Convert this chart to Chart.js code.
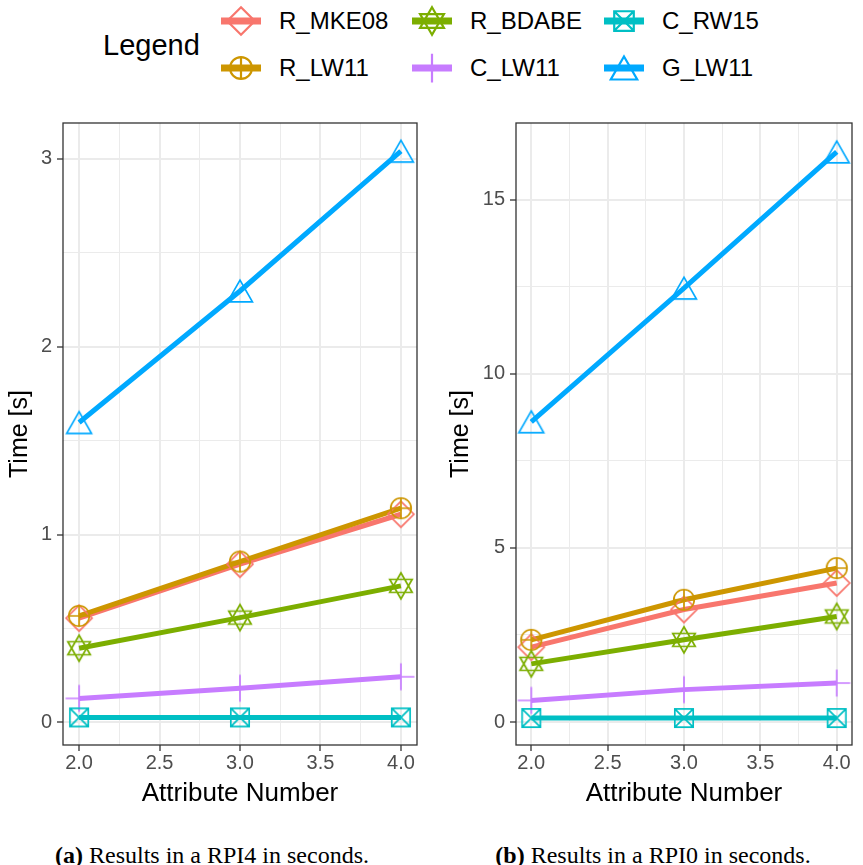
<!DOCTYPE html>
<html>
<head>
<meta charset="utf-8">
<script src="https://cdn.jsdelivr.net/npm/chart.js@4/dist/chart.umd.min.js"></script>
<style>
	body { margin: 0; background: #fff; width: 863px; height: 865px; position: relative; overflow: hidden;
		font-family: 'Liberation Sans', Arial, sans-serif; }
	canvas { position: absolute; }
	#rpi4 { left: 0; top: 100px; }
	#rpi0 { left: 430px; top: 100px; }
	.leg-title { position: absolute; left: 103px; top: 31px; font-size: 29px; line-height: 29px; color: #000; }
	.leg-text { position: absolute; font-size: 24px; line-height: 24px; color: #000; white-space: nowrap; }
	.cap { position: absolute; top: 841px; width: 430px; text-align: center; font-family: 'Liberation Serif', 'Times New Roman', serif;
		font-size: 24px; line-height: 28px; color: #000; white-space: nowrap; }
</style>
</head>
<body>
<div id="legend"><div class="leg-title">Legend</div></div>
<canvas id="rpi4" width="430" height="720"></canvas>
<canvas id="rpi0" width="433" height="720"></canvas>
<div class="cap" style="left:-3px"><b>(a)</b> Results in a RPI4 in seconds.</div>
<div class="cap" style="left:438px"><b>(b)</b> Results in a RPI0 in seconds.</div>
<script>
// attribute numbers on the x axis
const attributes = [2, 3, 4];

const seriesNames = ['R_MKE08', 'R_LW11', 'R_BDABE', 'C_LW11', 'C_RW15', 'G_LW11'];

// (a) RPI4, time in seconds
const rpi4MKE08 = [0.555, 0.842, 1.108];
const rpi4LW11 = [0.567, 0.856, 1.14];
const rpi4BDABE = [0.395, 0.558, 0.727];
const rpi4CLW11 = [0.128, 0.182, 0.243];
const rpi4RW15 = [0.027, 0.027, 0.027];
const rpi4GLW11 = [1.596, 2.296, 3.04];

// (b) RPI0, time in seconds
const rpi0MKE08 = [2.15, 3.23, 3.99];
const rpi0LW11 = [2.36, 3.51, 4.42];
const rpi0BDABE = [1.67, 2.36, 3.03];
const rpi0CLW11 = [0.62, 0.93, 1.12];
const rpi0RW15 = [0.115, 0.115, 0.115];
const rpi0GLW11 = [8.62, 12.46, 16.37];

// tick values
const xMajorTicks = [2.0, 2.5, 3.0, 3.5, 4.0];
const xMinorTicks = [2.25, 2.75, 3.25, 3.75];
const rpi4YMajor = [0, 1, 2, 3];
const rpi4YMinor = [0.5, 1.5, 2.5];
const rpi0YMajor = [0, 5, 10, 15];
const rpi0YMinor = [2.5, 7.5, 12.5];

const seriesColors = ['#F8766D', '#CD9600', '#7CAE00', '#C77CFF', '#00BFC4', '#00A9FF'];
const seriesShapes = ['diamond', 'circlePlus', 'star', 'plus', 'squareCross', 'triangle'];

function drawMarker(ctx, shape, cx, cy, s, color, lw) {
	ctx.save();
	ctx.strokeStyle = color;
	ctx.lineWidth = lw;
	ctx.beginPath();
	if (shape == 'diamond') {
		const r = 12 * s;
		ctx.moveTo(cx, cy - r); ctx.lineTo(cx + r, cy); ctx.lineTo(cx, cy + r); ctx.lineTo(cx - r, cy); ctx.closePath();
	} else if (shape == 'circlePlus') {
		const r = 9.5 * s;
		ctx.arc(cx, cy, r, 0, Math.PI * 2);
		ctx.moveTo(cx - r, cy); ctx.lineTo(cx + r, cy);
		ctx.moveTo(cx, cy - r); ctx.lineTo(cx, cy + r);
	} else if (shape == 'star') {
		const r = 12 * s;
		for (const start of [-90, 90]) {
			for (let k = 0; k < 3; k++) {
				const a = (start + k * 120) * Math.PI / 180;
				const px = cx + r * Math.cos(a), py = cy + r * Math.sin(a);
				if (k == 0) ctx.moveTo(px, py); else ctx.lineTo(px, py);
			}
			ctx.closePath();
		}
	} else if (shape == 'plus') {
		const r = 12.5 * s;
		ctx.moveTo(cx - r, cy); ctx.lineTo(cx + r, cy);
		ctx.moveTo(cx, cy - r); ctx.lineTo(cx, cy + r);
	} else if (shape == 'squareCross') {
		const h = 8.5 * s;
		ctx.rect(cx - h, cy - h, 2 * h, 2 * h);
		ctx.moveTo(cx - h, cy - h); ctx.lineTo(cx + h, cy + h);
		ctx.moveTo(cx + h, cy - h); ctx.lineTo(cx - h, cy + h);
	} else if (shape == 'triangle') {
		const w = 11.5 * s, h = 10 * s;
		ctx.moveTo(cx, cy - h); ctx.lineTo(cx + w, cy + h); ctx.lineTo(cx - w, cy + h); ctx.closePath();
	}
	ctx.stroke();
	ctx.restore();
}

// point style canvases
const markerCanvases = seriesShapes.map((shape, i) => {
	const c = document.createElement('canvas');
	c.width = 34; c.height = 34;
	drawMarker(c.getContext('2d'), shape, 17, 17, 1.08, seriesColors[i], 1.7);
	return c;
});

// legend, 3 columns x 2 rows, column-major
const legendEl = document.getElementById('legend');
seriesNames.forEach((name, i) => {
	const col = Math.floor(i / 2), row = i % 2;
	const keyLeft = [221, 412, 604][col];
	const rowCenter = [20.5, 67.5][row];
	const key = document.createElement('canvas');
	key.width = 40; key.height = 34;
	key.style.left = keyLeft + 'px';
	key.style.top = (rowCenter - 17) + 'px';
	const kctx = key.getContext('2d');
	kctx.fillStyle = seriesColors[i];
	kctx.fillRect(0, 17 - 3.5, 40, 7);
	drawMarker(kctx, seriesShapes[i], 20, 17, 1.15, seriesColors[i], 2.2);
	legendEl.appendChild(key);
	const txt = document.createElement('div');
	txt.className = 'leg-text';
	txt.textContent = name;
	txt.style.left = (keyLeft + 58) + 'px';
	txt.style.top = (rowCenter + 0.5 - 12) + 'px';
	legendEl.appendChild(txt);
});

const panelBorder = {
	id: 'panelBorder',
	afterDraw(chart) {
		const { ctx, chartArea: a } = chart;
		ctx.save();
		ctx.strokeStyle = '#333333';
		ctx.lineWidth = 1.3;
		ctx.strokeRect(a.left, a.top, a.right - a.left, a.bottom - a.top);
		ctx.restore();
	}
};

function makeChart(id, series, yMin, yMax, yMajor, yMinor, yAxisWidth, rightPad, yTitlePad) {
	const datasets = [];
	series.forEach((values, i) => {
		const pts = attributes.map((x, j) => ({ x: x, y: values[j] }));
		datasets.push({
			label: seriesNames[i],
			data: pts,
			borderColor: seriesColors[i],
			borderWidth: 5,
			borderCapStyle: 'butt',
			pointRadius: 0,
			tension: 0,
			fill: false,
			order: 20 - i
		});
		datasets.push({
			label: seriesNames[i] + ' points',
			data: pts,
			showLine: false,
			pointStyle: markerCanvases[i],
			pointRadius: 10,
			order: 10 - i
		});
	});
	const yTicks = yMajor.concat(yMinor).sort((a, b) => a - b);
	const xTicks = xMajorTicks.concat(xMinorTicks).sort((a, b) => a - b);

	return new Chart(document.getElementById(id), {
		type: 'line',
		data: { datasets: datasets },
		options: {
			responsive: false,
			animation: false,
			events: [],
			layout: { padding: { top: 23, right: rightPad, left: 0, bottom: 0 } },
			plugins: { legend: { display: false }, tooltip: { enabled: false } },
			scales: {
				x: {
					type: 'linear',
					min: 1.9,
					max: 4.1,
					afterBuildTicks: s => { s.ticks = xTicks.map(v => ({ value: v })); },
					afterFit: s => { s.height = 75; },
					border: { display: false },
					grid: {
						color: '#EBEBEB',
						lineWidth: c => xMajorTicks.includes(c.tick.value) ? 2 : 1,
						tickLength: 6,
						tickWidth: 1.3,
						tickColor: c => xMajorTicks.includes(c.tick.value) ? '#333333' : 'rgba(0,0,0,0)'
					},
					ticks: {
						padding: 0,
						color: '#4D4D4D',
						font: { size: 20, family: "'Liberation Sans', Arial, sans-serif" },
						maxRotation: 0,
						autoSkip: false,
						callback: v => xMajorTicks.includes(v) ? v.toFixed(1) : ''
					},
					title: {
						display: true,
						text: 'Attribute Number',
						color: '#000',
						font: { size: 26, family: "'Liberation Sans', Arial, sans-serif" },
						padding: { top: 0, bottom: 11 }
					}
				},
				y: {
					type: 'linear',
					min: yMin,
					max: yMax,
					afterBuildTicks: s => { s.ticks = yTicks.map(v => ({ value: v })); },
					afterFit: s => { s.width = yAxisWidth; },
					border: { display: false },
					grid: {
						color: '#EBEBEB',
						lineWidth: c => yMajor.includes(c.tick.value) ? 2 : 1,
						tickLength: 6,
						tickWidth: 1.3,
						tickColor: c => yMajor.includes(c.tick.value) ? '#333333' : 'rgba(0,0,0,0)'
					},
					ticks: {
						padding: 5,
						color: '#4D4D4D',
						font: { size: 20, family: "'Liberation Sans', Arial, sans-serif" },
						autoSkip: false,
						callback: v => yMajor.includes(v) ? String(v) : ''
					},
					title: {
						display: true,
						text: 'Time [s]',
						color: '#000',
						font: { size: 25, family: "'Liberation Sans', Arial, sans-serif" },
						padding: { top: yTitlePad, bottom: 0 }
					}
				}
			}
		},
		plugins: [panelBorder]
	});
}

makeChart('rpi4', [rpi4MKE08, rpi4LW11, rpi4BDABE, rpi4CLW11, rpi4RW15, rpi4GLW11],
	-0.12, 3.19, rpi4YMajor, rpi4YMinor, 63, 13, 5);
makeChart('rpi0', [rpi0MKE08, rpi0LW11, rpi0BDABE, rpi0CLW11, rpi0RW15, rpi0GLW11],
	-0.66, 17.2, rpi0YMajor, rpi0YMinor, 86, 6, 16);
</script>
</body>
</html>
